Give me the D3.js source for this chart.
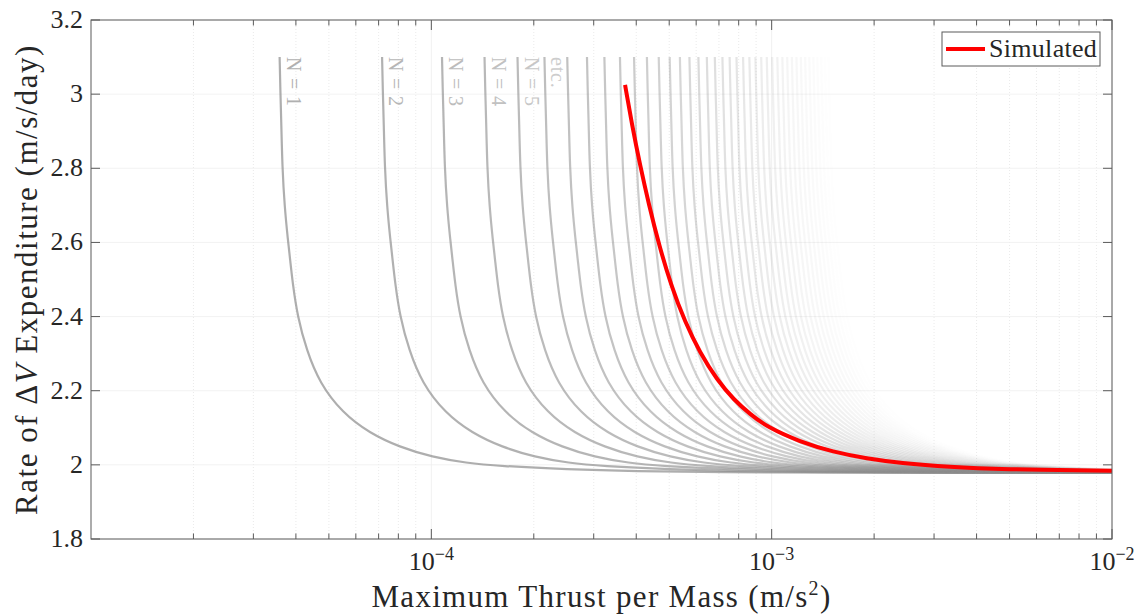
<!DOCTYPE html>
<html>
<head>
<meta charset="utf-8">
<script src="https://cdn.jsdelivr.net/npm/d3@7"></script>
<style>
  body { margin: 0; background: #fff; }
  text { font-family: "Liberation Serif", "DejaVu Serif", serif; fill: #262626; }
</style>
</head>
<body>
<div class="chart"></div>
<script>
// curve for N = 1 (x in m/s^2, y in m/s/day)
var baseX = [3.583e-5, 3.600e-5, 3.624e-5, 3.649e-5, 3.706e-5, 3.789e-5, 3.850e-5, 3.913e-5, 4.046e-5,
             4.298e-5, 4.693e-5, 5.483e-5, 6.578e-5, 8.058e-5, 1.007e-4, 1.266e-4, 1.582e-4, 2.5e-4,
             4e-4, 7e-4, 1.5e-3, 1e-2];
var baseY = [3.1, 3.011, 2.922, 2.803, 2.696, 2.607, 2.551, 2.491, 2.399,
             2.310, 2.221, 2.140, 2.086, 2.048, 2.021, 2.005, 1.997, 1.988,
             1.983, 1.980, 1.979, 1.978];
// the other gray curves are the same curve with x scaled by N
var curveN = [1, 2, 3, 4, 5, 6, 7, 8, 9, 10, 11, 12, 13, 14, 15, 16, 17, 18, 19, 20, 21, 22,
              23, 24, 25, 26, 27, 28, 29, 30, 31, 32, 33, 34, 35, 36, 37, 38, 39, 40, 41, 42, 43];
var labelN = [1, 2, 3, 4, 5, 6];
var labelText = ["N = 1", "N = 2", "N = 3", "N = 4", "N = 5", "etc."];

// simulated curve
var simX = [3.709e-4, 3.887e-4, 4.103e-4, 4.360e-4, 4.667e-4, 5.060e-4, 5.564e-4, 6.159e-4, 6.910e-4,
            7.753e-4, 8.638e-4, 9.690e-4, 1.2115e-3, 1.5144e-3, 1.9064e-3, 2.383e-3, 3.342e-3, 4.688e-3, 1e-2];
var simY = [3.025, 2.917, 2.809, 2.701, 2.593, 2.485, 2.385, 2.302, 2.229,
            2.175, 2.137, 2.102, 2.062, 2.035, 2.017, 2.005, 1.994, 1.988, 1.984];

var yTicks = [1.8, 2, 2.2, 2.4, 2.6, 2.8, 3, 3.2];
var yTickText = ["1.8", "2", "2.2", "2.4", "2.6", "2.8", "3", "3.2"];
var xTicks = [1e-4, 1e-3, 1e-2];
var xTickExp = ["\u22124", "\u22123", "\u22122"];

var width = 1148, height = 616;
var pL = 91, pR = 1112, pT = 20, pB = 539;

var svg = d3.select(".chart").append("svg").attr("width", width).attr("height", height);

var x = d3.scaleLog().domain([1e-5, 1e-2]).range([pL, pR]);
var y = d3.scaleLinear().domain([1.8, 3.2]).range([pB, pT]);

// minor tick positions 2..9 of each decade
var minor = [];
[1e-5, 1e-4, 1e-3].forEach(function(d) {
  for (var k = 2; k < 10; k++) minor.push(d * k);
});

// grid
var grid = svg.append("g");
grid.selectAll(".ming").data(minor).enter().append("line")
  .attr("x1", function(d) { return x(d); }).attr("x2", function(d) { return x(d); })
  .attr("y1", pT).attr("y2", pB)
  .style("stroke", "#e4e4e4").style("stroke-width", 0.8).style("stroke-dasharray", "1,2");
grid.selectAll(".majg").data(xTicks).enter().append("line")
  .attr("x1", function(d) { return x(d); }).attr("x2", function(d) { return x(d); })
  .attr("y1", pT).attr("y2", pB)
  .style("stroke", "#ececec").style("stroke-width", 0.8);
grid.selectAll(".yg").data(yTicks).enter().append("line")
  .attr("x1", pL).attr("x2", pR)
  .attr("y1", function(d) { return y(d); }).attr("y2", function(d) { return y(d); })
  .style("stroke", "#efefef").style("stroke-width", 0.8);

svg.append("clipPath").attr("id", "clip").append("rect")
  .attr("x", pL).attr("y", pT).attr("width", pR - pL).attr("height", pB - pT);

var line = d3.line().curve(d3.curveBasis);

var plot = svg.append("g").attr("clip-path", "url(#clip)");

// gray family, fading with N
plot.selectAll(".fam").data(curveN).enter().append("path")
  .attr("d", function(n) {
    return line(baseX.map(function(bx, i) { return [x(bx * n), y(baseY[i])]; }));
  })
  .style("fill", "none")
  .style("stroke", "#8c8c8c")
  .style("stroke-width", 2.2)
  .style("stroke-opacity", function(n) { return 0.7 * Math.pow(1 - (n - 1) / 43, 1.7); });

// simulated
plot.append("path")
  .attr("d", line(simX.map(function(sx, i) { return [x(sx), y(simY[i])]; })))
  .style("fill", "none").style("stroke", "#ff0000").style("stroke-width", 4);

// N labels
svg.selectAll(".nlab").data(labelN).enter().append("text")
  .attr("transform", function(n) { return "translate(" + (x(baseX[0] * n) + 7) + "," + y(baseY[0]) + ") rotate(90)"; })
  .style("font-size", "20px").style("letter-spacing", "0.8px")
  .style("fill", function(n, i) { return d3.interpolateRgb("#b0b0b0", "#cdcdcd")(i / 5); })
  .text(function(n, i) { return labelText[i]; });

// axes box
svg.append("rect").attr("x", pL).attr("y", pT).attr("width", pR - pL).attr("height", pB - pT)
  .style("fill", "none").style("stroke", "#5a5a5a").style("stroke-width", 1);

var ticks = svg.append("g").style("stroke", "#5a5a5a").style("stroke-width", 1);
// y ticks, both sides
ticks.selectAll(".ytl").data(yTicks).enter().append("line")
  .attr("x1", pL).attr("x2", pL + 9)
  .attr("y1", function(d) { return y(d); }).attr("y2", function(d) { return y(d); });
ticks.selectAll(".ytr").data(yTicks).enter().append("line")
  .attr("x1", pR).attr("x2", pR - 9)
  .attr("y1", function(d) { return y(d); }).attr("y2", function(d) { return y(d); });
// x ticks, bottom and top
[[pB, -1], [pT, 1]].forEach(function(s) {
  ticks.selectAll(null).data(xTicks).enter().append("line")
    .attr("x1", function(d) { return x(d); }).attr("x2", function(d) { return x(d); })
    .attr("y1", s[0]).attr("y2", s[0] + s[1] * 10);
  ticks.selectAll(null).data(minor).enter().append("line")
    .attr("x1", function(d) { return x(d); }).attr("x2", function(d) { return x(d); })
    .attr("y1", s[0]).attr("y2", s[0] + s[1] * 5.5);
});

// tick labels
svg.selectAll(".ylab").data(yTicks).enter().append("text")
  .attr("x", pL - 8).attr("y", function(d) { return y(d) + 8; })
  .attr("text-anchor", "end").style("font-size", "26px")
  .text(function(d, i) { return yTickText[i]; });

var xl = svg.selectAll(".xlab").data(xTicks).enter().append("text")
  .attr("x", function(d) { return x(d); }).attr("y", 570)
  .attr("text-anchor", "middle").style("font-size", "26px");
xl.append("tspan").text("10");
xl.append("tspan").attr("dy", -10).style("font-size", "18px").text(function(d, i) { return xTickExp[i]; });

// axis titles
var xt = svg.append("text").attr("x", (pL + pR) / 2).attr("y", 607)
  .attr("text-anchor", "middle").style("font-size", "31px").style("letter-spacing", "1.3px");
xt.append("tspan").text("Maximum Thrust per Mass (m/s");
xt.append("tspan").attr("dy", -12).style("font-size", "20px").text("2");
xt.append("tspan").attr("dy", 12).text(")");

var yt = svg.append("text").attr("transform", "translate(37," + ((pT + pB) / 2) + ") rotate(-90)")
  .attr("text-anchor", "middle").style("font-size", "31px").style("letter-spacing", "1.5px");
yt.append("tspan").text("Rate of \u0394");
yt.append("tspan").style("font-style", "italic").text("V");
yt.append("tspan").text(" Expenditure (m/s/day)");

// legend
var leg = svg.append("g");
leg.append("rect").attr("x", 942).attr("y", 32).attr("width", 158).attr("height", 34)
  .style("fill", "#fff").style("stroke", "#5a5a5a").style("stroke-width", 1);
leg.append("line").attr("x1", 946).attr("x2", 985).attr("y1", 49).attr("y2", 49)
  .style("stroke", "#ff0000").style("stroke-width", 4);
leg.append("text").attr("x", 989).attr("y", 57).style("font-size", "26px").style("letter-spacing", "0.3px").text("Simulated");
</script>
</body>
</html>
